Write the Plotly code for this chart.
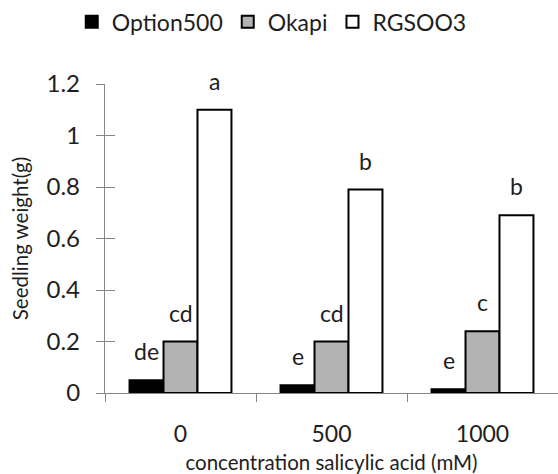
import plotly.graph_objects as go

# ---- data ----
categories = ["0", "500", "1000"]
series_names = ["Option500", "Okapi", "RGSOO3"]
option500 = [0.05, 0.03, 0.015]
okapi = [0.20, 0.20, 0.24]
rgsoo3 = [1.10, 0.79, 0.69]
letters_option500 = ["de", "e", "e"]
letters_okapi = ["cd", "cd", "c"]
letters_rgsoo3 = ["a", "b", "b"]
y_ticks = [0, 0.2, 0.4, 0.6, 0.8, 1, 1.2]

series_values = [option500, okapi, rgsoo3]
series_letters = [letters_option500, letters_okapi, letters_rgsoo3]
fills = ["#000000", "#b3b3b3", "#ffffff"]

FONT = "Lato"
TXT = "#1e1e1e"
AX = "#868686"

fig = go.Figure()
for name, vals, fill in zip(series_names, series_values, fills):
    fig.add_trace(go.Bar(
        x=categories, y=vals, name=name,
        marker=dict(color=fill, line=dict(color="#000000", width=2)),
    ))

# invisible helper trace so the crossing-tick overlay axis is drawn
fig.add_trace(go.Scatter(x=[categories[0]], y=[0], yaxis="y2", mode="markers",
                         marker=dict(opacity=0), showlegend=False, hoverinfo="skip"))

bargap = 0.325
bar_px = 453 / 3 * (1 - bargap) / 3
annotations = []
for i, (vals, lets) in enumerate(zip(series_values, series_letters)):
    for j, (v, t) in enumerate(zip(vals, lets)):
        annotations.append(dict(
            x=j, y=v, xref="x", yref="y", text=t, showarrow=False,
            xshift=(i - 1) * bar_px, yshift=13, yanchor="bottom",
            font=dict(family=FONT, size=23, color=TXT),
        ))

fig.update_layout(
    width=558, height=474,
    margin=dict(l=105, r=0, t=84, b=81),
    paper_bgcolor="white", plot_bgcolor="white",
    barmode="group", bargap=bargap, bargroupgap=0,
    font=dict(family=FONT, color=TXT),
    showlegend=True,
    legend=dict(orientation="h", xref="container", yref="container",
                x=0.487, xanchor="center", y=0.954, yanchor="middle",
                font=dict(family=FONT, size=23, color=TXT),
                itemwidth=30, traceorder="normal"),
    annotations=annotations,
    xaxis=dict(
        type="category", range=[-0.5, 2.5], tickson="boundaries",
        ticks="outside", ticklen=8, tickcolor=AX, tickwidth=1.3,
        showline=True, linecolor=AX, linewidth=1.3, showgrid=False,
        tickfont=dict(family=FONT, size=23, color=TXT),
        ticklabelstandoff=20,
        title=dict(text="concentration salicylic acid (mM)",
                   font=dict(family=FONT, size=20.5, color=TXT), standoff=12),
        automargin=False, fixedrange=True,
    ),
    yaxis=dict(
        range=[0, 1.2], tickvals=y_ticks,
        ticks="outside", ticklen=8, tickcolor=AX, tickwidth=1.3,
        showline=True, linecolor=AX, linewidth=1.3, showgrid=False, zeroline=False,
        tickfont=dict(family=FONT, size=24, color=TXT),
        ticklabelstandoff=11,
        title=dict(text="Seedling weight(g)",
                   font=dict(family=FONT, size=20.5, color=TXT), standoff=12),
        automargin=False, fixedrange=True,
    ),
    yaxis2=dict(
        range=[0, 1.2], tickvals=y_ticks, overlaying="y", anchor="x", side="left",
        ticks="inside", ticklen=10, tickcolor=AX, tickwidth=1.3,
        showticklabels=False, showline=False, showgrid=False, zeroline=False,
        fixedrange=True,
    ),
)

fig.write_html("out.html", config={"displayModeBar": False},
               post_script="document.body.style.margin='0px';")
